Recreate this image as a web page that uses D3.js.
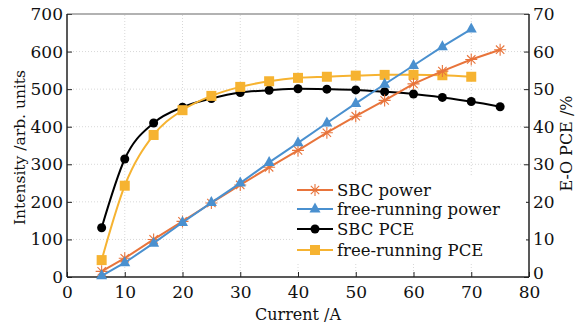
<!DOCTYPE html>
<html>
<head>
<meta charset="utf-8">
<script src="https://cdn.jsdelivr.net/npm/d3@7"></script>
<style>
body { margin: 0; background: #fff; }
svg text { font-family: "DejaVu Serif", "Liberation Serif", serif; fill: #111; }
</style>
</head>
<body>
<svg id="chart"></svg>
<script>
// data
var sbcPowerX = [6, 10, 15, 20, 25, 30, 35, 40, 45, 50, 55, 60, 65, 70, 75];
var sbcPower = [15, 50, 100, 148, 197, 245, 292, 337, 384, 428, 470, 514, 548, 579, 605];
var freePowerX = [6, 10, 15, 20, 25, 30, 35, 40, 45, 50, 55, 60, 65, 70];
var freePower = [3, 38, 90, 145, 198, 250, 305, 357, 410, 462, 513, 563, 613, 660];
var sbcPceX = [6, 10, 15, 20, 25, 30, 35, 40, 45, 50, 55, 60, 65, 70, 75];
var sbcPce = [13.1, 31.4, 41.0, 45.2, 47.5, 49.1, 49.7, 50.1, 50.0, 49.8, 49.3, 48.7, 47.8, 46.7, 45.3];
var freePceX = [6, 10, 15, 20, 25, 30, 35, 40, 45, 50, 55, 60, 65, 70];
var freePce = [4.5, 24.3, 37.8, 44.4, 48.2, 50.6, 52.1, 53.0, 53.3, 53.6, 53.8, 53.8, 53.7, 53.3];

var xTicks = [0, 10, 20, 30, 40, 50, 60, 70, 80];
var yLeftTicks = [0, 100, 200, 300, 400, 500, 600, 700];
var yRightTicks = [0, 10, 20, 30, 40, 50, 60, 70];

var width = 576, height = 327;
var margin = { left: 67, right: 47, top: 14, bottom: 50 };
var serif = '"DejaVu Serif", "Liberation Serif", serif';

let svg = d3.select('#chart').attr('width', width).attr('height', height);

var x = d3.scaleLinear().domain([0, 80]).range([margin.left, width - margin.right]);
var yL = d3.scaleLinear().domain([0, 700]).range([height - margin.bottom, margin.top]);
var yR = d3.scaleLinear().domain([0, 70]).range([height - margin.bottom, margin.top]);

// grid
svg.append('g')
	.selectAll('line')
	.data(xTicks.slice(1, -1))
	.enter()
	.append('line')
	.attr('x1', (d) => x(d)).attr('x2', (d) => x(d))
	.attr('y1', yL(0)).attr('y2', yL(700))
	.attr('stroke', '#d8d8d8').attr('stroke-dasharray', '1,2');
svg.append('g')
	.selectAll('line')
	.data(yLeftTicks.slice(1, -1))
	.enter()
	.append('line')
	.attr('x1', x(0)).attr('x2', x(80))
	.attr('y1', (d) => yL(d)).attr('y2', (d) => yL(d))
	.attr('stroke', '#d8d8d8').attr('stroke-dasharray', '1,2');

// axes
function styleAxis(g) {
	g.attr('font-family', serif).attr('font-size', 17);
	g.select('.domain').remove();
	g.selectAll('.tick line').attr('stroke', '#222');
	g.selectAll('.tick text').attr('fill', '#111');
}

svg.append('g')
	.attr('transform', 'translate(0,' + yL(0) + ')')
	.call(d3.axisBottom(x).tickValues(xTicks).tickSizeInner(-5).tickSizeOuter(0).tickPadding(9))
	.call(styleAxis);
svg.append('g')
	.attr('transform', 'translate(' + x(0) + ',0)')
	.call(d3.axisLeft(yL).tickValues(yLeftTicks).tickSizeInner(-5).tickSizeOuter(0).tickPadding(4))
	.call(styleAxis);
var rightAxis = svg.append('g')
	.attr('transform', 'translate(' + x(80) + ',0)')
	.call(d3.axisRight(yR).tickValues(yRightTicks).tickSizeInner(-5).tickSizeOuter(0).tickPadding(4))
	.call(styleAxis);
// nudge the right "0" up a touch so it clears the bottom "80"
rightAxis.selectAll('.tick').filter((d) => d === 0).select('text').attr('dy', '0.1em');

// frame
svg.append('line').attr('x1', x(0)).attr('x2', x(80)).attr('y1', yL(700)).attr('y2', yL(700)).attr('stroke', '#666').attr('stroke-width', 1.2);
svg.append('line').attr('x1', x(0)).attr('x2', x(80)).attr('y1', yL(0)).attr('y2', yL(0)).attr('stroke', '#222').attr('stroke-width', 1.5);
svg.append('line').attr('x1', x(0)).attr('x2', x(0)).attr('y1', yL(0)).attr('y2', yL(700)).attr('stroke', '#222').attr('stroke-width', 1.5);
svg.append('line').attr('x1', x(80)).attr('x2', x(80)).attr('y1', yL(0)).attr('y2', yL(700)).attr('stroke', '#222').attr('stroke-width', 1.5);

// axis titles
svg.append('text').attr('x', (x(0) + x(80)) / 2).attr('y', 320).attr('text-anchor', 'middle').style('font-size', '16px').text('Current /A');
svg.append('text').attr('transform', 'translate(25,' + (yL(350) + 2) + ') rotate(-90)').attr('text-anchor', 'middle').style('font-size', '15.5px').text('Intensity /arb. units');
svg.append('text').attr('transform', 'translate(572,' + (yL(350) - 2) + ') rotate(-90)').attr('text-anchor', 'middle').style('font-size', '16px').text('E-O PCE /%');

// series
var series = [
	{ name: 'SBC power', xs: sbcPowerX, ys: sbcPower, scale: yL, color: '#e8743b', marker: 'star', curve: d3.curveLinear },
	{ name: 'free-running power', xs: freePowerX, ys: freePower, scale: yL, color: '#4a90cf', marker: 'triangle', curve: d3.curveLinear },
	{ name: 'SBC PCE', xs: sbcPceX, ys: sbcPce, scale: yR, color: '#000000', marker: 'circle', curve: d3.curveMonotoneX },
	{ name: 'free-running PCE', xs: freePceX, ys: freePce, scale: yR, color: '#f6b331', marker: 'square', curve: d3.curveMonotoneX }
];

function drawMarker(g, type, color) {
	if (type === 'star') {
		var r = 6;
		g.append('path')
			.attr('d', 'M' + -r + ',0H' + r + 'M0,' + -r + 'V' + r +
				'M' + -r * 0.7 + ',' + -r * 0.7 + 'L' + r * 0.7 + ',' + r * 0.7 +
				'M' + -r * 0.7 + ',' + r * 0.7 + 'L' + r * 0.7 + ',' + -r * 0.7)
			.attr('stroke', color).attr('stroke-width', 1.1).attr('fill', 'none');
	} else if (type === 'triangle') {
		g.append('path').attr('d', 'M0,-6.5L5.5,3.5L-5.5,3.5Z').attr('fill', color);
	} else if (type === 'circle') {
		g.append('circle').attr('r', 4.5).attr('fill', color);
	} else {
		g.append('rect').attr('x', -5).attr('y', -5).attr('width', 10).attr('height', 10).attr('fill', color);
	}
}

// draw in order so black / yellow sit below the power lines like the reference
[2, 3, 0, 1].forEach(function(i) {
	var s = series[i];
	var pts = s.xs.map((d, j) => [d, s.ys[j]]);
	var line = d3.line().x((d) => x(d[0])).y((d) => s.scale(d[1])).curve(s.curve);
	var g = svg.append('g');
	g.append('path').attr('d', line(pts)).attr('fill', 'none').attr('stroke', s.color).attr('stroke-width', 2);
	pts.forEach(function(p) {
		var m = g.append('g').attr('transform', 'translate(' + x(p[0]) + ',' + s.scale(p[1]) + ')');
		drawMarker(m, s.marker, s.color);
	});
});

// legend
var legend = svg.append('g');
legend.append('rect').attr('x', 293).attr('y', 176).attr('width', 233).attr('height', 86).attr('fill', '#fff');
var legendY = [190, 209, 229, 250];
series.forEach(function(s, i) {
	var row = legend.append('g').attr('transform', 'translate(0,' + legendY[i] + ')');
	row.append('line').attr('x1', 297).attr('x2', 333).attr('stroke', s.color).attr('stroke-width', 2);
	drawMarker(row.append('g').attr('transform', 'translate(315,0)'), s.marker, s.color);
	row.append('text').attr('x', 337).attr('y', 6).style('font-size', '16.5px').text(s.name);
});
</script>
</body>
</html>
